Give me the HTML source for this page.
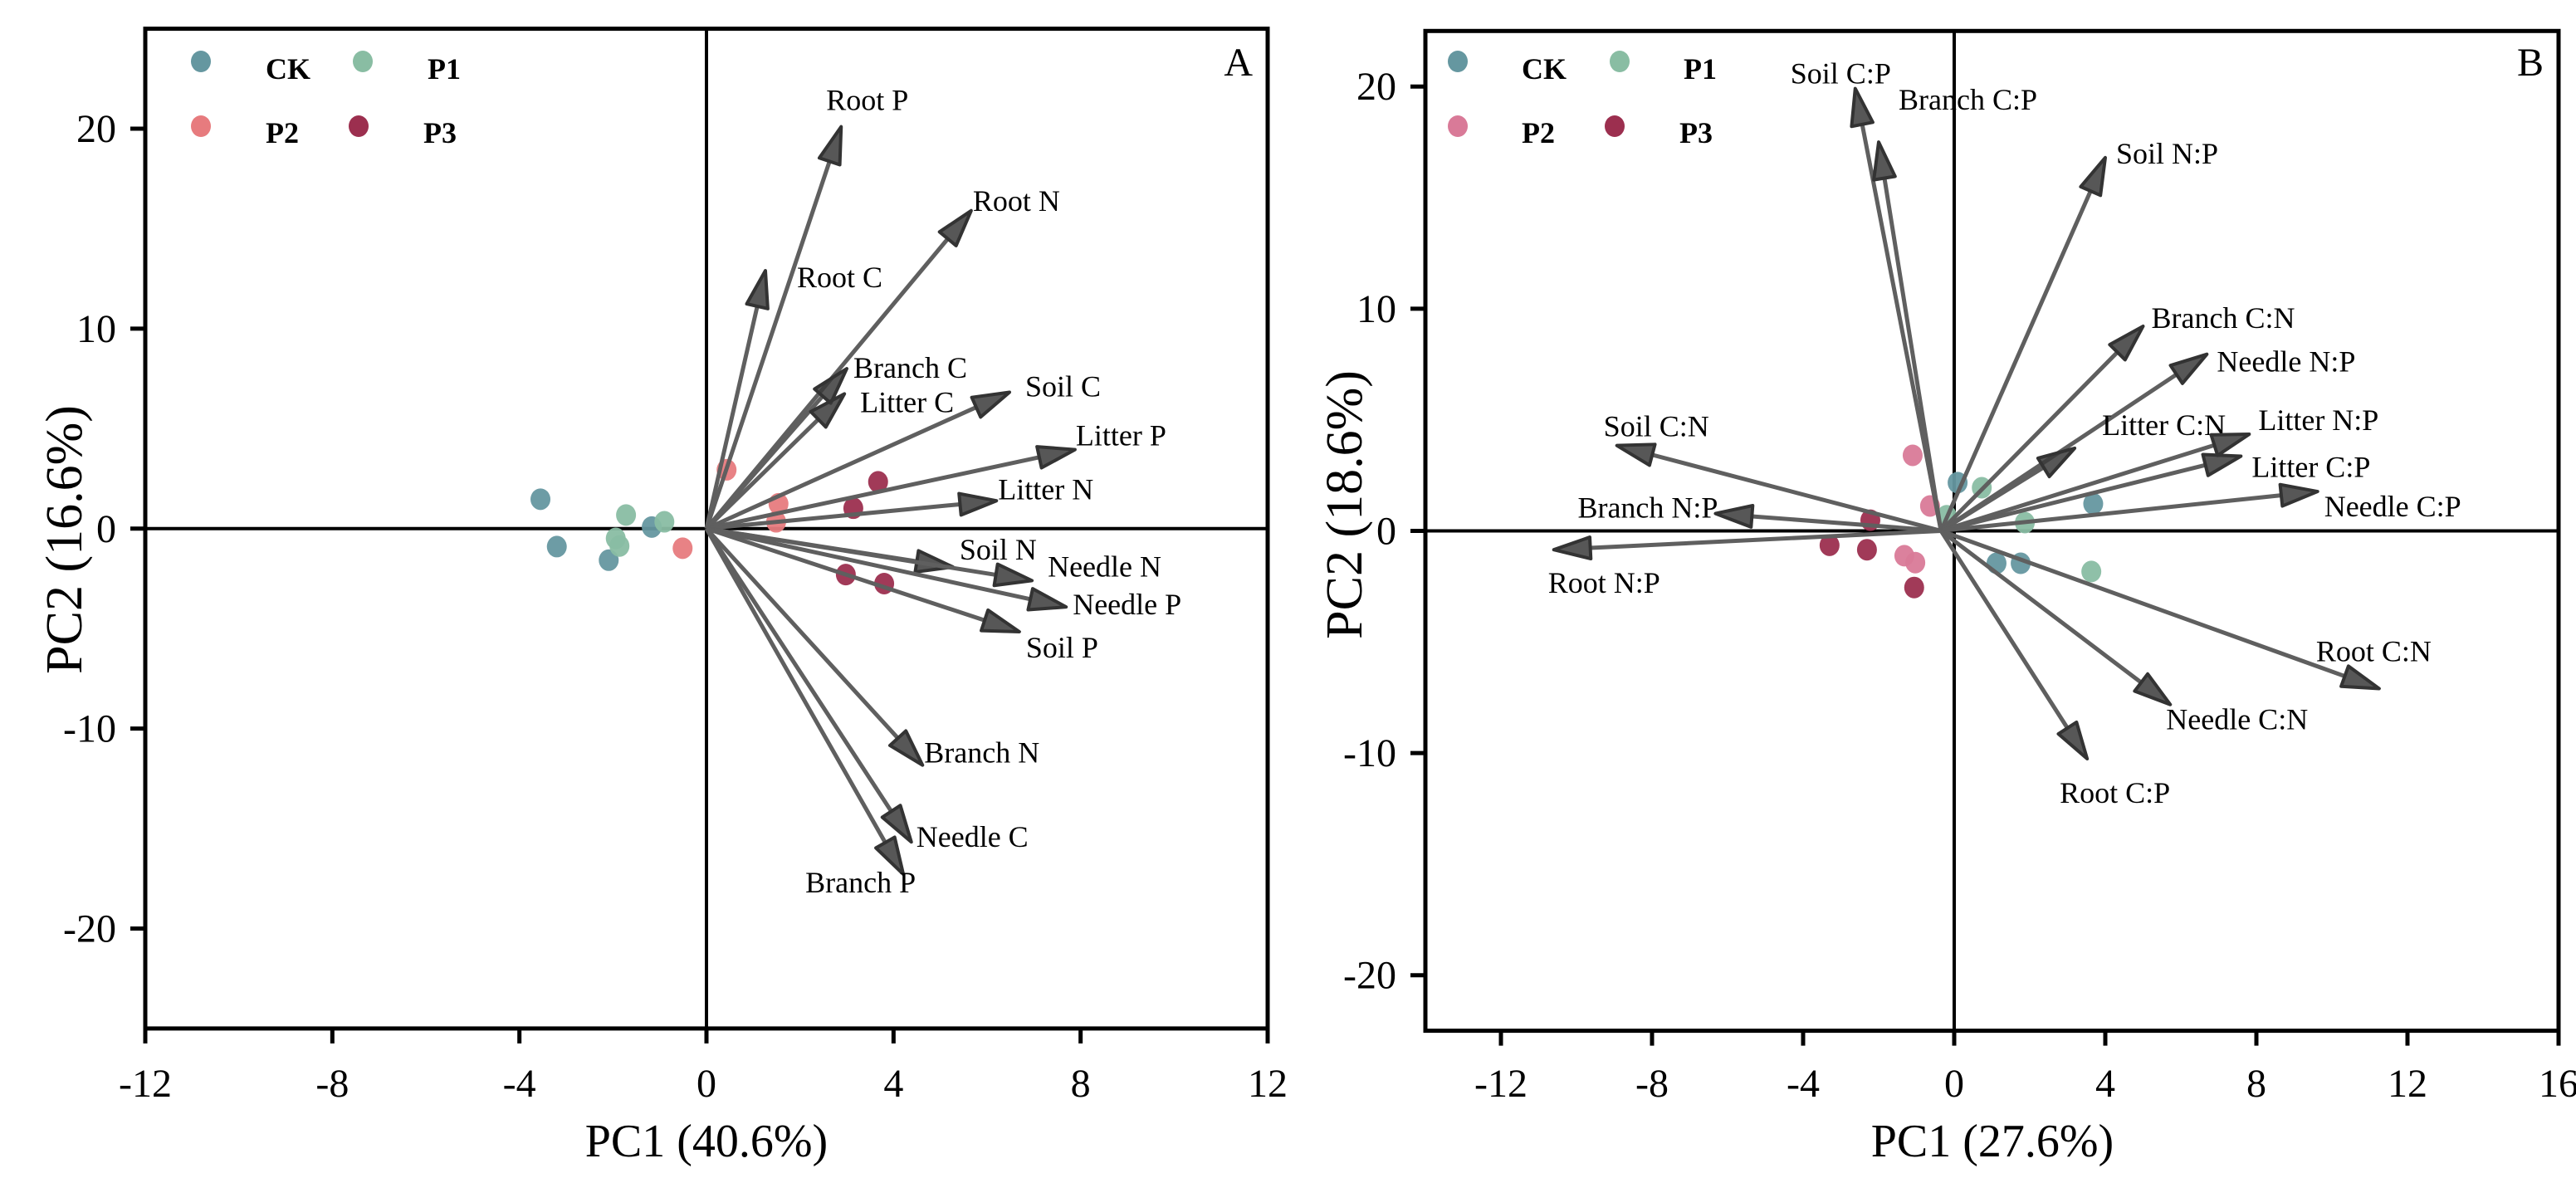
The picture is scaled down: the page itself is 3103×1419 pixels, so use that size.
<!DOCTYPE html>
<html><head><meta charset="utf-8">
<style>
html,body{margin:0;padding:0;background:#fff;}
svg{display:block;font-family:"Liberation Serif",serif;}
</style></head>
<body>
<svg id="chart" width="3103" height="1419" viewBox="0 0 3103 1419" xmlns="http://www.w3.org/2000/svg"></svg>
<script>
// ---------- Panel A data ----------
const aVarNames = ["Root P","Root N","Root C","Branch C","Litter C","Soil C","Litter P","Litter N","Soil N","Needle N","Needle P","Soil P","Branch N","Needle C","Branch P"];
const aVarPC1 = [2.88,5.66,1.26,3.0,2.95,6.48,7.88,6.2,5.27,6.96,7.69,6.69,4.62,4.38,4.21];
const aVarPC2 = [20.1,15.9,12.9,8.0,6.74,6.82,3.95,1.39,-1.92,-2.6,-3.92,-5.16,-11.83,-15.67,-17.29];
const aGroups = ["CK","P1","P2","P3"];
const aPtPC1 = [[-3.55,-3.2,-2.09,-1.17],[-1.72,-1.94,-1.86,-0.9],[0.43,1.54,1.49,-0.51],[3.67,3.14,2.98,3.8]];
const aPtPC2 = [[1.47,-0.9,-1.58,0.08],[0.68,-0.49,-0.87,0.34],[2.94,1.24,0.34,-0.98],[2.34,1.02,-2.3,-2.75]];
const aXTicks = [-12,-8,-4,0,4,8,12];
const aYTicks = [-20,-10,0,10,20];
// ---------- Panel B data ----------
const bVarNames = ["Soil C:P","Branch C:P","Soil N:P","Branch C:N","Needle N:P","Litter C:N","Litter N:P","Litter C:P","Needle C:P","Root C:N","Needle C:N","Root C:P","Soil C:N","Branch N:P","Root N:P"];
const bVarPC1 = [-2.62,-2.0,4.0,5.0,6.69,3.19,7.81,7.59,9.62,11.25,5.72,3.52,-8.93,-6.32,-10.6];
const bVarPC2 = [19.91,17.5,16.8,9.21,7.95,3.72,4.35,3.36,1.77,-7.1,-7.82,-10.26,3.84,0.78,-0.85];
const bGroups = ["CK","P1","P2","P3"];
const bPtPC1 = [[0.09,3.68,1.12,1.76],[0.73,1.87,3.63,-0.2],[-1.1,-0.64,-1.32,-1.03],[-2.22,-3.3,-2.31,-1.06]];
const bPtPC2 = [[2.17,1.22,-1.46,-1.46],[1.94,0.37,-1.83,0.68],[3.4,1.12,-1.12,-1.43],[0.48,-0.65,-0.85,-2.55]];
const bXTicks = [-12,-8,-4,0,4,8,12,16];
const bYTicks = [-20,-10,0,10,20];

// ---------- layout (styling) ----------
const NS="http://www.w3.org/2000/svg";
const svg=document.getElementById('chart');
function mk(tag,attrs,parent){const e=document.createElementNS(NS,tag);for(const k in attrs)e.setAttribute(k,attrs[k]);(parent||svg).appendChild(e);return e;}

const panels=[
 {id:"a",x0:175,x1:1527,y0:34.6,y1:1238.9,xmin:-12,xmax:12,ymin:-25,ymax:25,ox:0,oy:0,
  names:aVarNames,vx:aVarPC1,vy:aVarPC2,groups:aGroups,px:aPtPC1,py:aPtPC2,xt:aXTicks,yt:aYTicks,
  colors:["#6597a0","#89bda3","#e77b7e","#9c2f4f"],letter:"A",xtitle:"PC1 (40.6%)",ytitle:"PC2 (16.6%)",ytx:78,
  lab:[[-18,-20,"start"],[2,0,"start"],[38,20,"start"],[8,11,"start"],[19,22,"start"],[19,5,"start"],[1,-5,"start"],[2,-2,"start"],[8,-9,"start"],[19,-5,"start"],[8,9,"start"],[8,31,"start"],[2,-3,"start"],[6,6,"start"],[-118,22,"start"]],
  leg:[[242,74,320,95],[437,74,515,95],[242,152,320,172],[432,152,510,172]]},
 {id:"b",x0:1717,x1:3082,y0:37.3,y1:1241.6,xmin:-14,xmax:16,ymin:-22.5,ymax:22.5,ox:-0.35,oy:0,
  names:bVarNames,vx:bVarPC1,vy:bVarPC2,groups:bGroups,px:bPtPC1,py:bPtPC2,xt:bXTicks,yt:bYTicks,
  colors:["#6597a0","#89bda3","#d97a98","#9c2f4f"],letter:"B",xtitle:"PC1 (27.6%)",ytitle:"PC2 (18.6%)",ytx:1620,
  lab:[[-78,-6,"start"],[24,-39,"start"],[13,7,"start"],[10,2,"start"],[12,21,"start"],[33,-16,"start"],[11,-5,"start"],[13,25,"start"],[8,30,"start"],[-76,-33,"start"],[-5,30,"start"],[-33,53,"start"],[-16,-11,"start"],[3,5,"end"],[-7,52,"start"]],
  leg:[[1756,74,1833,95],[1951,74,2028,95],[1756,152,1833,172],[1945,152,2023,172]]}
];

panels.forEach(p=>{
  const sx=v=>p.x0+(v-p.xmin)/(p.xmax-p.xmin)*(p.x1-p.x0);
  const sy=v=>p.y1-(v-p.ymin)/(p.ymax-p.ymin)*(p.y1-p.y0);
  const g=mk('g',{});
  
  
  const zx=mk('line',{x1:p.x0,x2:p.x1,y1:sy(0),y2:sy(0),stroke:'#000','stroke-width':4},g);
  
  
  const zy=mk('line',{x1:sx(0),x2:sx(0),y1:p.y0,y2:p.y1,stroke:'#000','stroke-width':4},g);
  
  
  const fr=mk('rect',{x:p.x0,y:p.y0,width:p.x1-p.x0,height:p.y1-p.y0,fill:'none',stroke:'#000','stroke-width':5},g);
  
  
  p.xt.forEach(t=>{
    const tl=mk('line',{x1:sx(t),x2:sx(t),y1:p.y1,y2:p.y1+18,stroke:'#000','stroke-width':5},g);
    
    
    const tx=mk('text',{x:sx(t),y:1321,'text-anchor':'middle','font-size':48},g);
    tx.textContent=t;
    
    
  });
  p.yt.forEach(t=>{
    const tl=mk('line',{x1:p.x0-18,x2:p.x0,y1:sy(t),y2:sy(t),stroke:'#000','stroke-width':5},g);
    
    
    const tx=mk('text',{x:p.x0-35,y:sy(t)+16,'text-anchor':'end','font-size':48},g);
    tx.textContent=t;
    
    
  });
  const xtt=mk('text',{x:(p.id==='a'?851:2400),y:1393,'text-anchor':'middle','font-size':56},g);
  xtt.textContent=p.xtitle;
  
  
  const ycy=p.id==='a'?650:608;
  const ytt=mk('text',{x:p.ytx,y:ycy,'text-anchor':'middle','font-size':62,'dominant-baseline':'central',transform:`rotate(-90 ${p.ytx} ${ycy})`},g);
  ytt.textContent=p.ytitle;
  
  
  const lt=mk('text',{x:p.x1-18,y:91,'text-anchor':'end','font-size':48},g);
  lt.textContent=p.letter;
  
  
  p.groups.forEach((gn,gi)=>{
    p.px[gi].forEach((v,i)=>{
      const c=mk('ellipse',{cx:sx(v),cy:sy(p.py[gi][i]),rx:12,ry:13,fill:p.colors[gi],'fill-opacity':0.95},g);
      
      
    });
  });
  const ox=sx(p.ox), oy=sy(p.oy);
  p.names.forEach((n,i)=>{
    const ex=sx(p.vx[i]), ey=sy(p.vy[i]);
    const dx=ex-ox, dy=ey-oy, L=Math.hypot(dx,dy), ux=dx/L, uy=dy/L;
    const hl=44, hw=13;
    const bx=ex-ux*hl, by=ey-uy*hl;
    const ln=mk('line',{x1:ox,y1:oy,x2:bx,y2:by,stroke:'#5f5f5f','stroke-width':5},g);
    
    
    const hd=mk('polygon',{points:`${ex},${ey} ${bx-uy*hw},${by+ux*hw} ${bx+uy*hw},${by-ux*hw}`,fill:'#3a3a3a','fill-opacity':0.85,stroke:'#333','stroke-width':4,'stroke-linejoin':'round'},g);
    
    
    const lb=p.lab[i];
    const t=mk('text',{x:ex+lb[0],y:ey+lb[1],'text-anchor':lb[2],'font-size':36},g);
    t.textContent=n;
    
    
  });
  p.groups.forEach((gn,gi)=>{
    const L=p.leg[gi];
    const m=mk('ellipse',{cx:L[0],cy:L[1],rx:12,ry:13,fill:p.colors[gi]},g);
    
    
    const t=mk('text',{x:L[2],y:L[3],'font-size':36,'font-weight':'bold'},g);
    t.textContent=gn;
    
    
  });
});
</script>
</body></html>
